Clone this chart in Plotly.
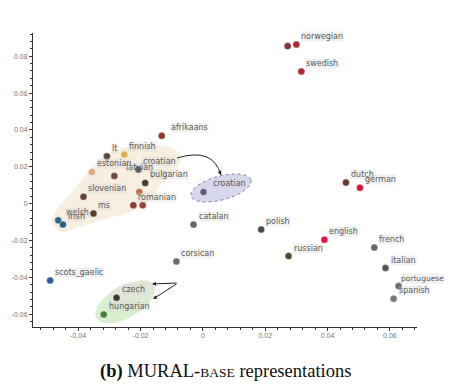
import numpy as np
import plotly.graph_objects as go

# ---------------- data ----------------
languages = ["danish", "norwegian", "swedish", "afrikaans", "dutch", "german", "english",
             "polish", "russian", "french", "italian", "portuguese", "spanish", "catalan",
             "corsican", "scots_gaelic", "czech", "hungarian", "welsh", "irish", "ms",
             "slovenian", "romanian", "", "", "bulgarian", "croatian", "latvian",
             "estonian", "lt", "finnish", "croatian"]
show_label = [False, True, True, True, True, True, True,
              True, True, True, True, True, True, True,
              True, True, True, True, True, True, True,
              True, True, False, False, True, True, True,
              True, True, True, True]
x_vals = [0.0272, 0.0300, 0.0316, -0.0132, 0.0459, 0.0504, 0.0390,
          0.0187, 0.0275, 0.0550, 0.0586, 0.0628, 0.0612, -0.0030,
          -0.0085, -0.0490, -0.0277, -0.0318, -0.0464, -0.0449, -0.0351,
          -0.0383, -0.0223, -0.0193, -0.0204, -0.0185, -0.0207, -0.0284,
          -0.0356, -0.0308, -0.0252, 0.0002]
y_vals = [0.0855, 0.0864, 0.0717, 0.0368, 0.0114, 0.0086, -0.0196,
          -0.0141, -0.0285, -0.0239, -0.0350, -0.0448, -0.0516, -0.0114,
          -0.0314, -0.0417, -0.0511, -0.0602, -0.0091, -0.0114, -0.0054,
          0.0037, -0.0009, -0.0009, 0.0063, 0.0112, 0.0185, 0.0150,
          0.0172, 0.0257, 0.0266, 0.0063]
colors = ["#8a3030", "#b02535", "#b52535", "#8a3a35", "#6a3528", "#d0183c", "#e0143c",
          "#4a4a4a", "#4a4e30", "#666666", "#555555", "#666666", "#777777", "#666666",
          "#6a6a6a", "#2d5f9a", "#3a3a3a", "#4a7f3a", "#2f6a8a", "#2a5f85", "#5a3a30",
          "#6a4030", "#8a3a30", "#9a4030", "#c07040", "#4a3a30", "#3a3030", "#6a4a3a",
          "#e0a880", "#5a4a40", "#d8b050", "#6a5a80"]

x_ticks = [-0.04, -0.02, 0, 0.02, 0.04, 0.06]
x_tick_text = ["-0.04", "-0.02", "0", "0.02", "0.04", "0.06"]
y_ticks = [-0.06, -0.04, -0.02, 0, 0.02, 0.04, 0.06, 0.08]
y_tick_text = ["-0.06", "-0.04", "-0.02", "0", "0.02", "0.04", "0.06", "0.08"]

# label offsets (pixels) and sizes — style only
label_dx = {"afrikaans": 8, "latvian": 11, "welsh": 7, "portuguese": 1}
label_dx_idx = {31: 9}
label_size = {"portuguese": 7.5}

X0, X1 = -0.0545, 0.0687
Y0, Y1 = -0.067, 0.0926
# the page body adds an 8px offset, so the figure is 16px smaller than the window
OFF = 8
W, H = 456 - 2 * OFF, 389 - 2 * OFF
ML, MR, MT, MB = 33 - OFF, 39 - OFF, 33 - OFF, 62 - OFF
pw = W - ML - MR
ph = H - MT - MB


# helpers work in window pixel coordinates
def px2x(px):
    return X0 + (px - (ML + OFF)) / pw * (X1 - X0)


def px2y(py):
    return Y1 - (py - (MT + OFF)) / ph * (Y1 - Y0)


def ellipse(cx, cy, rx, ry, ang_deg, n=60):
    t = np.linspace(0, 2 * np.pi, n)
    a = np.deg2rad(ang_deg)
    ex = cx + rx * np.cos(t) * np.cos(a) - ry * np.sin(t) * np.sin(a)
    ey = cy + rx * np.cos(t) * np.sin(a) + ry * np.sin(t) * np.cos(a)
    return [px2x(v) for v in ex], [px2y(v) for v in ey]


fig = go.Figure()

# background cluster blob (decorative)
blob_px = [(52, 222), (58, 208), (72, 192), (86, 174), (100, 160), (116, 150), (140, 145),
           (168, 147), (181, 156), (174, 172), (160, 186), (150, 200), (130, 212),
           (105, 219), (80, 227), (62, 232)]
bx = [px2x(p[0]) for p in blob_px] + [px2x(blob_px[0][0])]
by = [px2y(p[1]) for p in blob_px] + [px2y(blob_px[0][1])]
fig.add_trace(go.Scatter(x=bx, y=by, mode="lines", fill="toself", line=dict(width=0, shape="spline"),
                         fillcolor="rgba(238,226,202,0.55)", hoverinfo="skip", showlegend=False))

# green ellipse
gx, gy = ellipse(125, 302, 33, 16, -30)
fig.add_trace(go.Scatter(x=gx, y=gy, mode="lines", fill="toself", line=dict(width=0),
                         fillcolor="rgba(205,232,192,0.75)", hoverinfo="skip", showlegend=False))
gx2, gy2 = ellipse(132, 292, 24, 10, -15)
fig.add_trace(go.Scatter(x=gx2, y=gy2, mode="lines", fill="toself", line=dict(width=0),
                         fillcolor="rgba(228,228,220,0.7)", hoverinfo="skip", showlegend=False))

# blue ellipse
ex, ey = ellipse(221, 188, 31, 12, -15)
fig.add_trace(go.Scatter(x=ex, y=ey, mode="lines", fill="toself",
                         line=dict(width=1, color="rgb(130,130,160)", dash="dot"),
                         fillcolor="rgba(205,205,232,0.8)", hoverinfo="skip", showlegend=False))

# points
fig.add_trace(go.Scatter(x=x_vals, y=y_vals, mode="markers",
                         marker=dict(size=7, color=colors, line=dict(width=0.6, color="rgba(255,255,255,0.6)")),
                         text=languages, hoverinfo="text", showlegend=False))

# labels
for i, (name, xv, yv, show) in enumerate(zip(languages, x_vals, y_vals, show_label)):
    if not show:
        continue
    dx = label_dx_idx.get(i, label_dx.get(name, 4))
    fig.add_annotation(x=xv, y=yv, text=name, showarrow=False, xanchor="left", yanchor="middle",
                       xshift=dx, yshift=8,
                       font=dict(family="DejaVu Sans", size=label_size.get(name, 8), color="#5a5a5a"),
                       bgcolor="rgba(210,210,210,0.3)", borderpad=0)

# curved arrow from croatian label to the moved croatian point
p0 = (px2x(177), px2y(158))
pc = (px2x(213), px2y(147))
p1 = (px2x(221), px2y(175))
fig.add_shape(type="path", xref="x", yref="y",
              path=f"M {p0[0]},{p0[1]} Q {pc[0]},{pc[1]} {p1[0]},{p1[1]}",
              line=dict(color="#222222", width=1))
fig.add_annotation(x=p1[0], y=p1[1], ax=px2x(219), ay=px2y(170), xref="x", yref="y",
                   axref="x", ayref="y", text="", showarrow=True, arrowhead=2, arrowsize=0.8,
                   arrowwidth=1, arrowcolor="#222222")

# czech / hungarian arrows
apex = (px2x(178), px2y(283))
fig.add_annotation(x=px2x(152), y=px2y(284), ax=apex[0], ay=apex[1], xref="x", yref="y",
                   axref="x", ayref="y", text="", showarrow=True, arrowhead=2, arrowsize=0.8,
                   arrowwidth=1, arrowcolor="#222222")
fig.add_annotation(x=px2x(153), y=px2y(299), ax=apex[0], ay=apex[1], xref="x", yref="y",
                   axref="x", ayref="y", text="", showarrow=True, arrowhead=2, arrowsize=0.8,
                   arrowwidth=1, arrowcolor="#222222")

# caption (centre at window y ~ 371)
fig.add_annotation(xref="paper", yref="paper", x=0.5, y=-(371 - (MT + OFF + ph)) / ph,
                   showarrow=False, xanchor="center", yanchor="middle",
                   text="<b>(b)</b> MURAL-<span style='font-size:13.5px'>BASE</span> representations",
                   font=dict(family="Liberation Serif", size=18.5, color="#111111"))

axis_common = dict(showgrid=False, zeroline=False, showline=True, linecolor="#333333", linewidth=1,
                   ticks="outside", ticklen=3, tickcolor="#333333", automargin=False,
                   tickfont=dict(family="Liberation Sans", size=7, color="#777777"))
fig.update_xaxes(range=[X0, X1], tickvals=x_ticks, ticktext=x_tick_text, ticklabelstandoff=-1,
                 minor=dict(ticks="outside", ticklen=2, dtick=0.004, tick0=0, tickcolor="#333333"),
                 **axis_common)
fig.update_yaxes(range=[Y0, Y1], tickvals=y_ticks, ticktext=y_tick_text, ticklabelstandoff=0,
                 minor=dict(ticks="outside", ticklen=2, dtick=0.004, tick0=0, tickcolor="#333333"),
                 **axis_common)

fig.update_layout(width=W, height=H, margin=dict(l=ML, r=MR, t=MT, b=MB),
                  plot_bgcolor="white", paper_bgcolor="white")

fig.write_html("out.html")
